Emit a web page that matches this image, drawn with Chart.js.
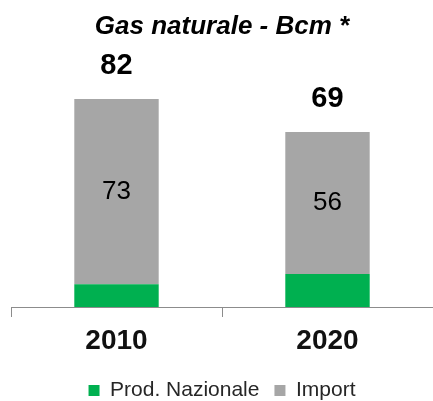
<!DOCTYPE html>
<html>
<head>
<meta charset="utf-8">
<script src="https://cdn.jsdelivr.net/npm/chart.js@4/dist/chart.umd.min.js"></script>
<style>
    body { margin: 0; background: #fff; }
    canvas { display: block; }
</style>
</head>
<body>
<canvas id="gas-chart" width="433" height="401"></canvas>
<script>
// 데이터
const years = ['2010', '2020'];
const prodNazionale = [9, 13];
const importValues = [73, 56];
const totals = [82, 69];

const FONT = '"Liberation Sans", Arial, sans-serif';

// 막대 위/안 숫자 표시
const barLabels = {
    id: 'barLabels',
    afterDatasetsDraw(chart) {
        const ctx = chart.ctx;
        const meta = chart.getDatasetMeta(1);
        ctx.save();
        ctx.textAlign = 'center';
        ctx.textBaseline = 'middle';
        ctx.fillStyle = '#000';
        meta.data.forEach((bar, i) => {
            ctx.font = '26px ' + FONT;
            ctx.fillText(importValues[i], bar.x, (bar.y + bar.base) / 2);
            ctx.font = 'bold 29px ' + FONT;
            ctx.fillText(totals[i], bar.x, bar.y - 33);
        });
        ctx.restore();
    }
};

new Chart(document.getElementById('gas-chart'), {
    type: 'bar',
    data: {
        labels: years,
        datasets: [{
            label: 'Prod. Nazionale',
            data: prodNazionale,
            backgroundColor: '#00B050',
            borderWidth: 0
        }, {
            label: 'Import',
            data: importValues,
            backgroundColor: '#A6A6A6',
            borderWidth: 0
        }]
    },
    options: {
        responsive: false,
        animation: false,
        layout: {
            padding: { left: 11, right: 0, top: 0, bottom: -10 }
        },
        datasets: {
            bar: { categoryPercentage: 0.8, barPercentage: 0.5 }
        },
        plugins: {
            title: {
                display: true,
                text: 'Gas naturale - Bcm *',
                color: '#000',
                font: { family: FONT, size: 26, weight: 'bold', style: 'italic', lineHeight: 1.2 },
                padding: { top: 11, bottom: 11 }
            },
            legend: {
                position: 'bottom',
                labels: {
                    color: '#262626',
                    font: { family: FONT, size: 21 },
                    boxWidth: 11,
                    boxHeight: 11,
                    padding: 15
                }
            },
            tooltip: { enabled: false }
        },
        scales: {
            x: {
                stacked: true,
                grid: {
                    drawOnChartArea: false,
                    drawTicks: true,
                    tickLength: 10,
                    color: '#8C8C8C'
                },
                border: { color: '#8C8C8C', width: 1 },
                ticks: {
                    color: '#111',
                    font: { family: FONT, size: 28, weight: 'bold', lineHeight: 1 },
                    padding: 10
                }
            },
            y: {
                stacked: true,
                display: false,
                min: 0,
                max: 100
            }
        }
    },
    plugins: [barLabels]
});
</script>
</body>
</html>
